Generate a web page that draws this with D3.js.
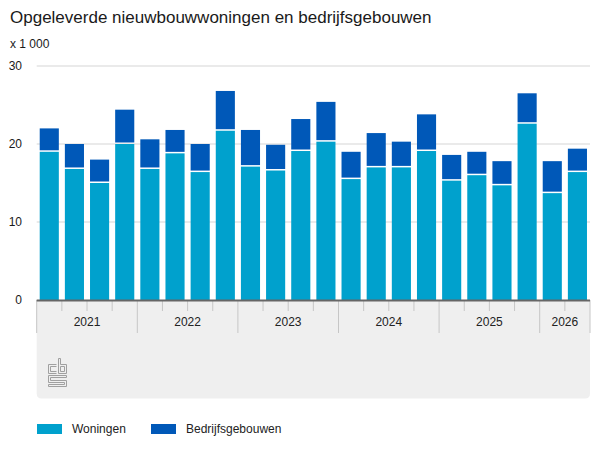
<!DOCTYPE html>
<html>
<head>
<meta charset="utf-8">
<script src="https://cdn.jsdelivr.net/npm/d3@7"></script>
<style>
  body { margin: 0; background: #fff; }
  svg { display: block; font-family: "Liberation Sans", Arial, sans-serif; }
</style>
</head>
<body>
<script>
// Data (x 1 000)
let quarters = ['2021 K1', '2021 K2', '2021 K3', '2021 K4',
  '2022 K1', '2022 K2', '2022 K3', '2022 K4',
  '2023 K1', '2023 K2', '2023 K3', '2023 K4',
  '2024 K1', '2024 K2', '2024 K3', '2024 K4',
  '2025 K1', '2025 K2', '2025 K3', '2025 K4',
  '2026 K1', '2026 K2'];
let years = ['2021', '2022', '2023', '2024', '2025', '2026'];
let woningen = [19.0, 16.8, 15.0, 20.0, 16.8, 18.8, 16.4, 21.7, 17.1, 16.6, 19.1,
  20.3, 15.5, 17.0, 17.0, 19.1, 15.3, 16.0, 14.7, 22.6, 13.7, 16.4];
let bedrijfsgebouwen = [3.0, 3.2, 3.0, 4.4, 3.8, 3.0, 3.6, 5.1, 4.7, 3.3, 4.1,
  5.1, 3.5, 4.4, 3.3, 4.7, 3.3, 3.0, 3.1, 3.9, 4.1, 3.0];
let yTicks = [0, 10, 20, 30];
let seriesNames = ['Woningen', 'Bedrijfsgebouwen'];
let colors = ['#00a1cd', '#0058b8'];

let width = 600, height = 450;
let plotLeft = 36.7, plotRight = 590, plotTop = 66, plotBottom = 300;

let svg = d3.select('body').append('svg')
  .attr('width', width)
  .attr('height', height);

let x = d3.scaleBand()
  .domain(quarters)
  .range([plotLeft, plotRight])
  .paddingInner(0.24)
  .paddingOuter(0.12);

let y = d3.scaleLinear()
  .domain([0, 30])
  .range([plotBottom, plotTop]);

// title
svg.append('text')
  .attr('x', 10)
  .attr('y', 23)
  .attr('font-size', '17px')
  .attr('fill', '#1a1a1a')
  .text('Opgeleverde nieuwbouwwoningen en bedrijfsgebouwen');

svg.append('text')
  .attr('x', 10)
  .attr('y', 48)
  .attr('font-size', '12px')
  .attr('fill', '#1a1a1a')
  .text('x 1 000');

// gridlines + y labels
svg.selectAll('line.grid')
  .data(yTicks.filter(d => d > 0))
  .enter()
  .append('line')
  .attr('class', 'grid')
  .attr('x1', plotLeft)
  .attr('x2', plotRight)
  .attr('y1', d => y(d))
  .attr('y2', d => y(d))
  .attr('stroke', '#e3e3e3')
  .attr('stroke-width', 1.5);

svg.selectAll('text.ytick')
  .data(yTicks)
  .enter()
  .append('text')
  .attr('class', 'ytick')
  .attr('x', 22)
  .attr('y', d => y(d))
  .attr('dy', '0.35em')
  .attr('text-anchor', 'end')
  .attr('font-size', '12px')
  .attr('fill', '#1a1a1a')
  .text(d => d);

// stacked bars
let stacked = quarters.map((q, i) => ({ q: q, w: woningen[i], b: bedrijfsgebouwen[i] }));

svg.selectAll('rect.won')
  .data(stacked)
  .enter()
  .append('rect')
  .attr('class', 'won')
  .attr('x', d => x(d.q))
  .attr('width', x.bandwidth())
  .attr('y', d => y(d.w))
  .attr('height', d => y(0) - y(d.w))
  .attr('fill', colors[0]);

svg.selectAll('rect.bed')
  .data(stacked)
  .enter()
  .append('rect')
  .attr('class', 'bed')
  .attr('x', d => x(d.q))
  .attr('width', x.bandwidth())
  .attr('y', d => y(d.w + d.b))
  .attr('height', d => y(d.w) - y(d.w + d.b) - 1.5)
  .attr('fill', colors[1]);

// category area below the axis
let boxBottom = 398.5, r = 5;
svg.append('path')
  .attr('d', `M${plotLeft},${plotBottom} H${plotRight} V${boxBottom - r} Q${plotRight},${boxBottom} ${plotRight - r},${boxBottom}` +
    ` H${plotLeft + r} Q${plotLeft},${boxBottom} ${plotLeft},${boxBottom - r} Z`)
  .attr('fill', '#efefef');

let step = x.step();
let edge = q => x(q) - step * x.paddingInner() / 2;
let yearStarts = years.map(yr => quarters.findIndex(q => q.startsWith(yr)));

// quarter ticks (short) and year separators (long)
let tickData = quarters.map((q, i) => ({ pos: edge(q), long: yearStarts.includes(i) }));
tickData.push({ pos: plotRight, long: true });

svg.selectAll('line.qtick')
  .data(tickData)
  .enter()
  .append('line')
  .attr('class', 'qtick')
  .attr('x1', d => d.pos)
  .attr('x2', d => d.pos)
  .attr('y1', plotBottom)
  .attr('y2', d => d.long ? 333 : 311)
  .attr('stroke', '#c6c6c6')
  .attr('stroke-width', 1);

svg.selectAll('text.year')
  .data(years)
  .enter()
  .append('text')
  .attr('class', 'year')
  .attr('x', (yr, i) => {
    let a = tickData[yearStarts[i]].pos;
    let b = i + 1 < years.length ? tickData[yearStarts[i + 1]].pos : plotRight;
    return (a + b) / 2;
  })
  .attr('y', 322)
  .attr('dy', '0.35em')
  .attr('text-anchor', 'middle')
  .attr('font-size', '12px')
  .attr('fill', '#222')
  .text(d => d);

// axis line
svg.append('line')
  .attr('x1', plotLeft)
  .attr('x2', plotRight)
  .attr('y1', y(0) + 0.5)
  .attr('y2', y(0) + 0.5)
  .attr('stroke', '#666')
  .attr('stroke-width', 2);

// cbs logo
let logo = svg.append('g')
  .attr('transform', 'translate(48.5,358.5)')
  .attr('fill', 'none')
  .attr('stroke', '#a0a0a0')
  .attr('stroke-width', 1);
logo.append('path').attr('d', 'M8,6 H0 V15 H8 M8,8 H2 V13 H8');
logo.append('path').attr('d', 'M10,0 H12 V6 H18 V15 H10 Z M12,8 H16 V13 H12 Z');
logo.append('path').attr('d', 'M0,17 H18 V19 H2 V22 H18 V28 H0 V26 H16 V24 H0 Z');

// legend
let legend = svg.selectAll('g.legend')
  .data(seriesNames)
  .enter()
  .append('g')
  .attr('class', 'legend')
  .attr('transform', (d, i) => `translate(${i === 0 ? 37 : 151},424)`);

legend.append('rect')
  .attr('width', 25)
  .attr('height', 10)
  .attr('fill', (d, i) => colors[i]);

legend.append('text')
  .attr('x', 35)
  .attr('y', 5)
  .attr('dy', '0.35em')
  .attr('font-size', '12px')
  .attr('fill', '#222')
  .text(d => d);
</script>
</body>
</html>
